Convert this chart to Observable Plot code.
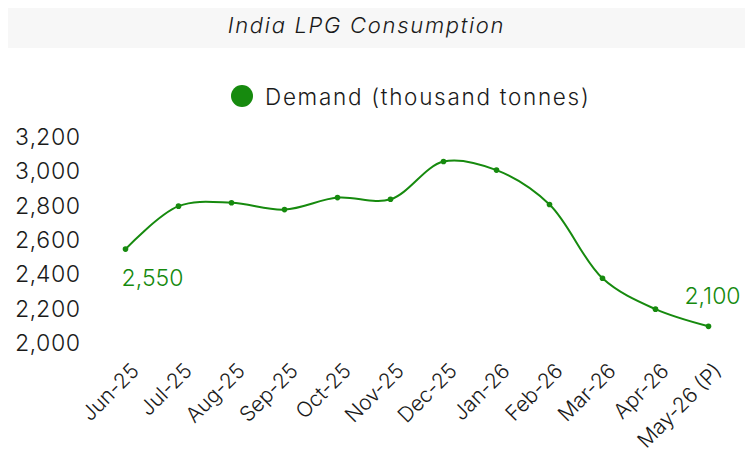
<!DOCTYPE html>
<html>
<head>
<meta charset="utf-8">
<script src="https://cdn.jsdelivr.net/npm/d3@7"></script>
<script src="https://cdn.jsdelivr.net/npm/@observablehq/plot@0.6"></script>
<style>
  html, body { margin: 0; padding: 0; background: #ffffff; }
  body { width: 755px; height: 461px; position: relative; overflow: hidden; font-family: Inter, "DejaVu Sans", sans-serif; font-weight: 300; }
  #title { position: absolute; left: 8px; top: 8px; width: 737px; height: 40px; background: #f7f7f7;
           font-style: italic; font-size: 22px; letter-spacing: 1.7px; line-height: 34px; text-align: center; color: #1a1a1a; box-sizing: border-box; padding-right: 20px; }
  #legend { position: absolute; left: 231px; top: 83px; height: 26px; display: flex; align-items: center; font-size: 22.5px; letter-spacing: 1.7px; color: #1a1a1a; }
  #legend .sw { width: 22px; height: 22px; border-radius: 50%; background: #168a0e; margin-right: 12px; }
  #chart { position: absolute; left: 0; top: 115px; }
  #chart svg text { font-weight: 300; }
</style>
</head>
<body>
<div id="title">India LPG Consumption</div>
<div id="legend"><span class="sw"></span><span id="legendText"></span></div>
<div id="chart"></div>
<script>
const months = ["Jun-25","Jul-25","Aug-25","Sep-25","Oct-25","Nov-25","Dec-25","Jan-26","Feb-26","Mar-26","Apr-26","May-26 (P)"];
const demand = [2550, 2800, 2820, 2780, 2850, 2840, 3060, 3010, 2810, 2380, 2200, 2100];
const yTicks = [2000, 2200, 2400, 2600, 2800, 3000, 3200];
const seriesName = "Demand (thousand tonnes)";
const labelIdxFirst = 0;
const labelIdxLast = 11;

document.getElementById("legendText").textContent = seriesName;

const data = months.map((m, i) => ({month: m, value: demand[i]}));
const green = "#168a0e";
const fmt = d3.format(",");

const chart = Plot.plot({
  width: 755,
  height: 346,
  marginLeft: 125,
  marginRight: 47,
  marginTop: 22,
  marginBottom: 118,
  style: {fontFamily: "Inter, 'DejaVu Sans', sans-serif", fontSize: "22px", color: "#1a1a1a", background: "transparent"},
  x: {type: "point", domain: months, padding: 0, label: null},
  y: {domain: [2000, 3200], label: null},
  marks: [
    Plot.axisY({ticks: yTicks, tickFormat: fmt, tickSize: 0, tickPadding: 45, fontSize: 23, label: null, fill: "#1a1a1a", style: {letterSpacing: "1.5px"}}),
    Plot.axisX({tickSize: 0, tickRotate: -45, tickPadding: 0, fontSize: 21, label: null, dx: 10, dy: 24, fill: "#1a1a1a", style: {letterSpacing: "1.3px"}}),
    Plot.line(data, {x: "month", y: "value", stroke: green, strokeWidth: 2, curve: "catmull-rom"}),
    Plot.dot(data, {x: "month", y: "value", r: 2.8, fill: green, stroke: null}),
    Plot.text([data[labelIdxFirst]], {x: "month", y: "value", text: d => fmt(d.value), fill: green, fontSize: 23, dx: 27, dy: 30, style: {letterSpacing: "1.3px"}}),
    Plot.text([data[labelIdxLast]], {x: "month", y: "value", text: d => fmt(d.value), fill: green, fontSize: 23, dx: 4, dy: -30, style: {letterSpacing: "1.3px"}})
  ]
});
document.getElementById("chart").appendChild(chart);
</script>
</body>
</html>
